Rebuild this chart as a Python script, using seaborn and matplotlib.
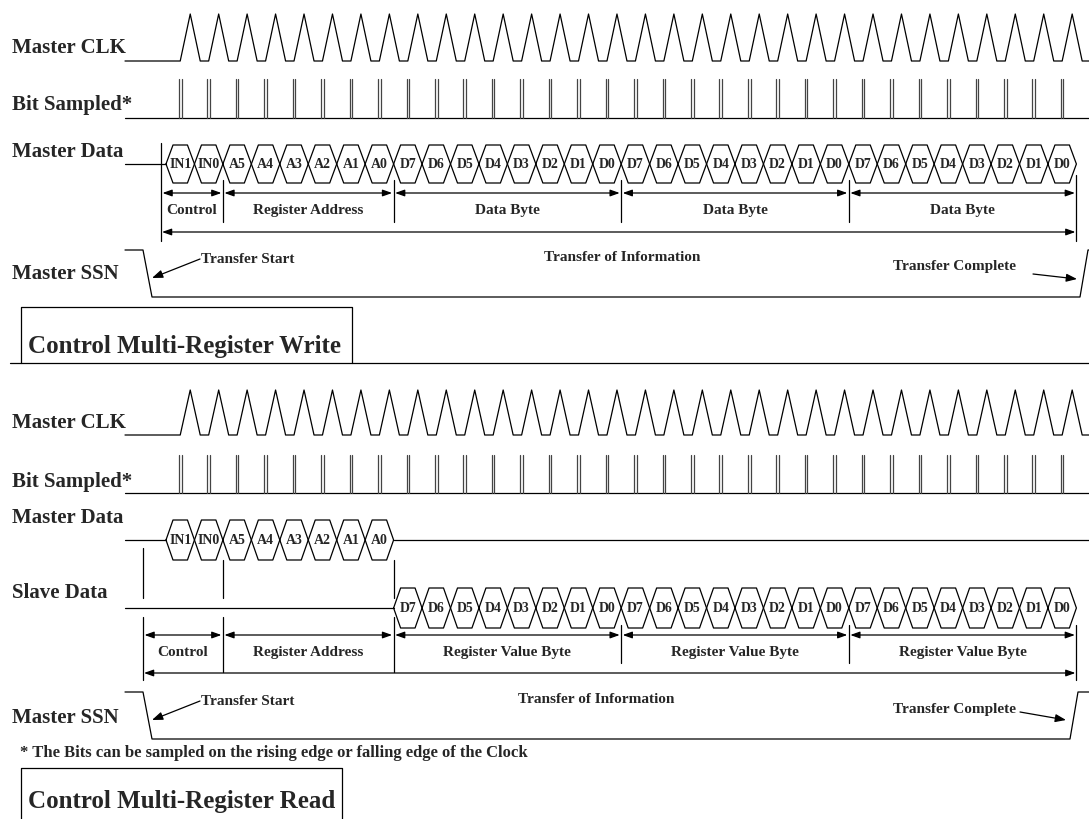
import matplotlib
matplotlib.use("Agg")
import matplotlib.pyplot as plt
import seaborn as sns

# bits shifted out on the serial bus
control_bits = ["IN1", "IN0"]
address_bits = ["A5", "A4", "A3", "A2", "A1", "A0"]
byte_bits = ["D7", "D6", "D5", "D4", "D3", "D2", "D1", "D0"]
n_data_bytes = 3

field_bits = [2, 6, 8, 8, 8]
write_fields = ["Control", "Register Address", "Data Byte", "Data Byte", "Data Byte"]
read_fields = ["Control", "Register Address", "Register Value Byte",
               "Register Value Byte", "Register Value Byte"]

write_signals = ["Master CLK", "Bit Sampled*", "Master Data", "Master SSN"]
read_signals = ["Master CLK", "Bit Sampled*", "Master Data", "Slave Data", "Master SSN"]

write_title = "Control Multi-Register Write"
read_title = "Control Multi-Register Read"
footnote = "* The Bits can be sampled on the rising edge or falling edge of the Clock"

# layout, in pixels of the 1089x819 canvas
W, H = 1089, 819
X0 = 166.0      # first bit cell
BIT = 28.45     # bit period
LEFT = 125      # start of signal lines
SERIF = ["Liberation Serif", "DejaVu Serif"]
SMALL = 11

sns.set_theme(style="white")
plt.rcParams["font.family"] = SERIF
plt.rcParams["font.weight"] = "bold"

fig = plt.figure(figsize=(W / 100, H / 100), dpi=100)
ax = fig.add_axes([0, 0, 1, 1])


def trace(xs, ys, color="black", lw=0.9):
    sns.lineplot(x=xs, y=ys, sort=False, estimator=None, color=color,
                 lw=lw, ax=ax)


def bit_x(k):
    return X0 + k * BIT


def clock(base, peak, n):
    xs, ys = [LEFT], [base]
    for k in range(n):
        r = bit_x(k + 0.5)
        xs += [r, r + 10, r + 20]
        ys += [base, peak, base]
    xs.append(W)
    ys.append(base)
    trace(xs, ys)


def sampled(base, top, n):
    trace([LEFT, W], [base, base])
    for k in range(n):
        x = bit_x(k + 0.5)
        for dx in (-1.3, 1.3):
            trace([x + dx, x + dx], [base, top], color="#444444", lw=0.9)


def bus(labels, first_bit, cy, h, slope=7):
    for i, lab in enumerate(labels):
        xa = bit_x(first_bit + i)
        xb = xa + BIT
        trace([xa, xa + slope, xb - slope, xb, xb - slope, xa + slope, xa],
              [cy, cy - h, cy - h, cy, cy + h, cy + h, cy])
        ax.text((xa + xb) / 2, cy + 4, lab, ha="center", va="baseline",
                fontsize=10, fontweight="bold")


def ssn(high, low, end_x):
    trace([LEFT, 143, 152, end_x, end_x + 8, W],
          [high, high, low, low, high, high])


def bounds(first_x):
    edges = [first_x]
    total = 0
    for b in field_bits:
        total += b
        edges.append(bit_x(total))
    return edges


def dbl_arrow(x1, x2, y):
    ax.annotate("", xy=(x2, y), xytext=(x1, y),
                arrowprops=dict(arrowstyle="<|-|>,head_length=0.7,head_width=0.25",
                                color="black", lw=0.9, mutation_scale=8,
                                shrinkA=0, shrinkB=0))


def fields(edges, names, y_arrow, y_label, y_long):
    for i, name in enumerate(names):
        dbl_arrow(edges[i] + 1.5, edges[i + 1] - 1.5, y_arrow)
        ax.text((edges[i] + edges[i + 1]) / 2, y_label, name, ha="center",
                va="baseline", fontsize=SMALL, fontweight="bold")
    dbl_arrow(edges[0] + 1, edges[-1] - 1, y_long)


def transfer_notes(y_text, info_x, start_tip, end_from, end_tip, y_end):
    ax.text(201, y_text, "Transfer Start", ha="left", va="baseline",
            fontsize=SMALL, fontweight="bold")
    ax.annotate("", xy=start_tip, xytext=(200, y_text - 4),
                arrowprops=dict(arrowstyle="-|>,head_length=0.8,head_width=0.3",
                                color="black", lw=0.9, mutation_scale=8,
                                shrinkA=0, shrinkB=0))
    ax.text(info_x, y_text - 2, "Transfer of Information", ha="center",
            va="baseline", fontsize=SMALL, fontweight="bold")
    ax.text(893, y_end, "Transfer Complete", ha="left", va="baseline",
            fontsize=SMALL, fontweight="bold")
    ax.annotate("", xy=end_tip, xytext=end_from,
                arrowprops=dict(arrowstyle="-|>,head_length=0.8,head_width=0.3",
                                color="black", lw=0.9, mutation_scale=8,
                                shrinkA=0, shrinkB=0))


def labels(names, baselines):
    for name, yb in zip(names, baselines):
        ax.text(12, yb, name, ha="left", va="baseline", fontsize=15,
                fontweight="bold")


all_bits = control_bits + address_bits + byte_bits * n_data_bytes
n_bits = len(all_bits)

# ---------------- write cycle ----------------
labels(write_signals, [53, 110, 157, 279])
clock(61, 14, n_bits)
sampled(118, 79, n_bits)
trace([LEFT, X0], [164, 164])
bus(all_bits, 0, 164, 19)

edges = bounds(161)
for i, x in enumerate(edges):
    if i == 0:
        trace([x, x], [143, 241])
    elif i == len(edges) - 1:
        trace([x, x], [175, 241])
    else:
        trace([x, x], [180, 222])
fields(edges, write_fields, 193, 214, 232)

ssn(250, 297, 1080)
transfer_notes(263, 622, (152, 278), (1033, 274), (1077, 279), 270)

# title box + separator
trace([21, 21, 352, 352], [363, 307, 307, 363])
trace([10, W], [363, 363])
ax.text(28, 353, write_title, ha="left", va="baseline", fontsize=18,
        fontweight="bold")

# ---------------- read cycle ----------------
labels(read_signals, [428, 487, 523, 598, 723])
clock(435, 390, n_bits)
sampled(493, 455, n_bits)

n_head = len(control_bits) + len(address_bits)
trace([LEFT, X0], [540, 540])
bus(all_bits[:n_head], 0, 540, 20)
trace([bit_x(n_head), W], [540, 540])

trace([LEFT, bit_x(n_head)], [608, 608])
bus(all_bits[n_head:], n_head, 608, 20)

edges = bounds(143)
for i, x in enumerate(edges):
    if i == 0:
        trace([x, x], [548, 598])
        trace([x, x], [617, 680])
    elif i <= 2:
        trace([x, x], [560, 598])
        trace([x, x], [617, 672])
    elif i == len(edges) - 1:
        trace([x, x], [625, 680])
    else:
        trace([x, x], [625, 663])
fields(edges, read_fields, 635, 656, 673)

ssn(692, 739, 1070)
transfer_notes(705, 596, (152, 720), (1020, 712), (1066, 720), 713)

ax.text(20, 757, footnote, ha="left", va="baseline", fontsize=12,
        fontweight="bold")

trace([21, 21, 342, 342], [H + 5, 768, 768, H + 5])
ax.text(28, 808, read_title, ha="left", va="baseline", fontsize=18,
        fontweight="bold")

ax.set_xlim(0, W)
ax.set_ylim(H, 0)
ax.axis("off")
fig.savefig("out.png", dpi=100, facecolor="white")
